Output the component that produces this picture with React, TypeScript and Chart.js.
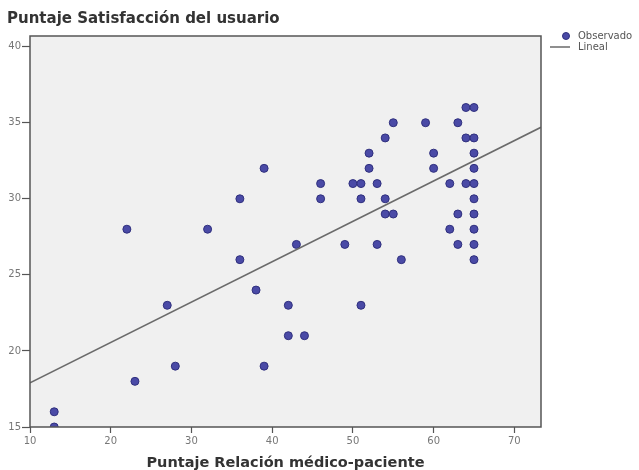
import React, { useEffect, useRef } from "react";
import { Chart, registerables } from "chart.js";

Chart.register(...registerables);

// Observed points: Puntaje Relación médico-paciente (x) vs Puntaje Satisfacción del usuario (y)
const relacionValues = [
  13, 13, 22, 23, 27, 28, 32, 36, 36, 38, 39, 39, 42, 42, 43, 44, 46, 46, 49, 50,
  51, 51, 51, 52, 52, 53, 53, 54, 54, 54, 55, 55, 56, 59, 60, 60, 62, 62, 63, 63,
  63, 64, 65, 64, 65, 65, 65, 64, 65, 65, 65, 65, 65, 65,
];
const satisfaccionValues = [
  15, 16, 28, 18, 23, 19, 28, 30, 26, 24, 32, 19, 23, 21, 27, 21, 31, 30, 27, 31,
  31, 30, 23, 33, 32, 31, 27, 34, 30, 29, 35, 29, 26, 35, 33, 32, 31, 28, 35, 29,
  27, 36, 36, 34, 34, 33, 32, 31, 31, 30, 29, 28, 27, 26,
];

// Fitted linear line
const lineX = [10, 73.3];
const lineY = [17.9, 34.7];

const xTicks = [10, 20, 30, 40, 50, 60, 70];
const yTicks = [15, 20, 25, 30, 35, 40];

const chartTitle = "Puntaje Satisfacción del usuario";
const xAxisTitle = "Puntaje Relación médico-paciente";
const legendLabels = ["Observado", "Lineal"];

const POINT_FILL = "#4a4aa6";
const POINT_BORDER = "#30307e";
const LINE_COLOR = "#6a6a6a";

const decorPlugin = {
  id: "decor",
  beforeDraw(chart: any) {
    const { ctx, chartArea } = chart;
    ctx.save();
    ctx.fillStyle = "#ffffff";
    ctx.fillRect(0, 0, chart.width, chart.height);
    ctx.fillStyle = "#f0f0f0";
    ctx.fillRect(chartArea.left, chartArea.top, chartArea.right - chartArea.left, chartArea.bottom - chartArea.top);
    ctx.restore();
  },
  afterDraw(chart: any) {
    const { ctx, chartArea } = chart;
    ctx.save();
    // frame
    ctx.strokeStyle = "#555555";
    ctx.lineWidth = 1.5;
    ctx.strokeRect(chartArea.left, chartArea.top, chartArea.right - chartArea.left, chartArea.bottom - chartArea.top);
    // title
    ctx.fillStyle = "#333333";
    ctx.font = "bold 15px 'DejaVu Sans'";
    ctx.textBaseline = "middle";
    ctx.textAlign = "left";
    ctx.fillText(chartTitle, 7, 19);
    // x axis title
    ctx.font = "bold 14.5px 'DejaVu Sans'";
    ctx.textAlign = "center";
    ctx.fillText(xAxisTitle, (chartArea.left + chartArea.right) / 2, 463);
    // legend
    ctx.fillStyle = POINT_FILL;
    ctx.strokeStyle = POINT_BORDER;
    ctx.lineWidth = 1;
    ctx.beginPath();
    ctx.arc(566, 36, 3.5, 0, Math.PI * 2);
    ctx.fill();
    ctx.stroke();
    ctx.strokeStyle = LINE_COLOR;
    ctx.lineWidth = 1.5;
    ctx.beginPath();
    ctx.moveTo(550, 47);
    ctx.lineTo(570, 47);
    ctx.stroke();
    ctx.fillStyle = "#555555";
    ctx.font = "10px 'DejaVu Sans'";
    ctx.textAlign = "left";
    ctx.fillText(legendLabels[0], 578, 36);
    ctx.fillText(legendLabels[1], 578, 47);
    ctx.restore();
  },
};

export default function App() {
  const canvasRef = useRef<HTMLCanvasElement | null>(null);

  useEffect(() => {
    if (!canvasRef.current) return;
    const points = relacionValues.map((x, i) => ({ x, y: satisfaccionValues[i] }));
    const linePts = lineX.map((x, i) => ({ x, y: lineY[i] }));
    const chart = new Chart(canvasRef.current, {
      type: "scatter",
      data: {
        datasets: [
          {
            type: "line",
            label: legendLabels[1],
            data: linePts,
            borderColor: LINE_COLOR,
            borderWidth: 1.6,
            pointRadius: 0,
            fill: false,
            order: 1,
          } as any,
          {
            label: legendLabels[0],
            data: points,
            backgroundColor: POINT_FILL,
            borderColor: POINT_BORDER,
            borderWidth: 1,
            pointRadius: 4,
            order: 2,
          },
        ],
      },
      plugins: [decorPlugin],
      options: {
        responsive: false,
        animation: false,
        layout: { padding: { left: 8, top: 36, right: 98, bottom: 0 } },
        plugins: {
          legend: { display: false },
          title: { display: false },
          tooltip: { enabled: false },
        },
        scales: {
          x: {
            type: "linear",
            min: 10,
            max: 73.3,
            afterBuildTicks: (scale: any) => {
              scale.ticks = xTicks.map((v) => ({ value: v }));
            },
            afterFit: (scale: any) => {
              scale.height = 43;
            },
            grid: {
              drawOnChartArea: false,
              drawTicks: true,
              tickLength: 6,
              tickColor: "#555555",
              tickWidth: 1.2,
            },
            border: { display: false },
            ticks: {
              color: "#777777",
              font: { family: "'DejaVu Sans'", size: 10 },
              padding: 2,
              maxRotation: 0,
            },
          },
          y: {
            type: "linear",
            min: 15,
            max: 40.7,
            afterBuildTicks: (scale: any) => {
              scale.ticks = yTicks.map((v) => ({ value: v }));
            },
            afterFit: (scale: any) => {
              scale.width = 22;
            },
            grid: {
              drawOnChartArea: false,
              drawTicks: true,
              tickLength: 8,
              tickColor: "#555555",
              tickWidth: 1.2,
            },
            border: { display: false },
            ticks: {
              color: "#777777",
              font: { family: "'DejaVu Sans'", size: 10 },
              padding: 1,
            },
          },
        },
      },
    });
    return () => chart.destroy();
  }, []);

  return (
    <div style={{ position: "fixed", left: 0, top: 0, width: 639, height: 470, background: "#fff" }}>
      <canvas ref={canvasRef} width={639} height={470} />
    </div>
  );
}
